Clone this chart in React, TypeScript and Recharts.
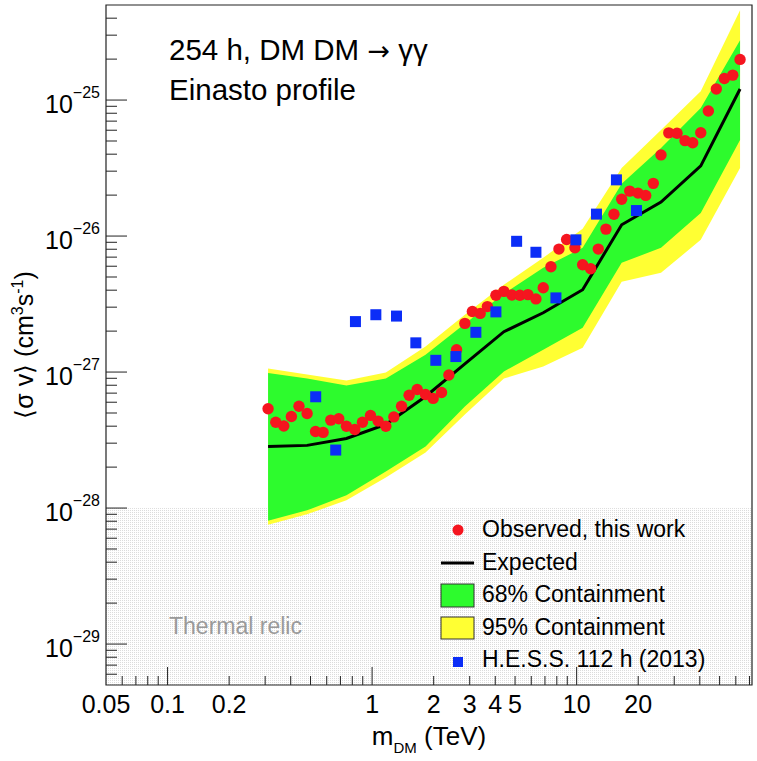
import React from "react";
import { ComposedChart, Area, Line, Scatter, XAxis, YAxis, ReferenceArea, Legend, Label } from "recharts";

const FONT = "'Liberation Sans', Arial, Helvetica, sans-serif";

// expected limit and containment bands (13 masses, TeV)
const bandMass = [0.31, 0.481, 0.749, 1.167, 1.825, 2.841, 4.409, 6.865, 10.7, 16.6, 25.85, 40.44, 62.94];
const expected = [2.84e-28, 2.89e-28, 3.25e-28, 4.12e-28, 6.61e-28, 1.15e-27, 1.98e-27, 2.73e-27, 4.03e-27, 1.21e-26, 1.78e-26, 3.28e-26, 1.205e-25];
const band68Low = [8.06e-29, 9.62e-29, 1.24e-28, 1.86e-28, 2.84e-28, 5.58e-28, 1.01e-27, 1.46e-27, 2.12e-27, 6.36e-27, 8.2e-27, 1.48e-26, 5.08e-26];
const band68High = [9.84e-28, 8.96e-28, 7.96e-28, 8.96e-28, 1.34e-27, 2.27e-27, 3.77e-27, 5.85e-27, 8.2e-27, 2.42e-26, 4.44e-26, 8.74e-26, 2.75e-25];
const band95Low = [7.53e-29, 9.0e-29, 1.14e-28, 1.68e-28, 2.56e-28, 4.88e-28, 8.96e-28, 1.1e-27, 1.51e-27, 4.62e-27, 5.37e-27, 9.38e-27, 3.17e-26];
const band95High = [1.06e-27, 9.59e-28, 8.66e-28, 9.91e-28, 1.54e-27, 2.64e-27, 4.39e-27, 6.92e-27, 1.13e-26, 3.17e-26, 6.02e-26, 1.16e-25, 4.58e-25];

// observed limit, this work
const obsMass = [
  0.31, 0.338, 0.37, 0.403, 0.439, 0.481, 0.529, 0.576, 0.628, 0.687,
  0.749, 0.823, 0.897, 0.982, 1.07, 1.167, 1.277, 1.393, 1.517, 1.661,
  1.825, 1.988, 2.185, 2.373, 2.588, 2.841, 3.092, 3.376, 3.661, 4.03,
  4.409, 4.825, 5.28, 5.776, 6.323, 6.865, 7.486, 8.192, 8.935, 9.81,
  10.7, 11.71, 12.76, 13.91, 15.22, 16.6, 18.17, 19.95, 21.76, 23.7,
  25.85, 28.22, 30.96, 33.87, 36.94, 40.44, 44.05, 48.19, 52.75, 57.98, 62.94,
];
const obsSigmaV = [
  5.37e-28, 4.28e-28, 4.01e-28, 4.71e-28, 5.61e-28, 4.96e-28, 3.66e-28, 3.6e-28, 4.43e-28, 4.54e-28,
  4.0e-28, 3.78e-28, 4.28e-28, 4.8e-28, 4.36e-28, 4.0e-28, 4.68e-28, 5.61e-28, 6.76e-28, 7.45e-28,
  6.84e-28, 6.4e-28, 7.08e-28, 9.51e-28, 1.46e-27, 2.28e-27, 2.79e-27, 2.7e-27, 3.03e-27, 3.67e-27,
  3.92e-27, 3.69e-27, 3.67e-27, 3.71e-27, 3.45e-27, 4.17e-27, 5.95e-27, 8.02e-27, 9.44e-27, 8.2e-27,
  6.15e-27, 5.75e-27, 8.02e-27, 1.125e-26, 1.445e-26, 1.866e-26, 2.14e-26, 2.07e-26, 1.99e-26, 2.44e-26,
  3.95e-26, 5.74e-26, 5.7e-26, 5.03e-26, 4.86e-26, 5.75e-26, 8.3e-26, 1.205e-25, 1.44e-25, 1.525e-25, 1.99e-25,
];

// H.E.S.S. 112 h (2013)
const hessMass = [0.53, 0.664, 0.829, 1.043, 1.316, 1.636, 2.049, 2.568, 3.216, 4.03, 5.088, 6.323, 7.92, 9.92, 12.5, 15.65, 19.61];
const hessSigmaV = [6.58e-28, 2.67e-28, 2.35e-27, 2.64e-27, 2.58e-27, 1.64e-27, 1.22e-27, 1.3e-27, 1.96e-27, 2.77e-27, 9.15e-27, 7.6e-27, 3.51e-27, 9.38e-27, 1.45e-26, 2.59e-26, 1.54e-26];

const xTicks = [0.05, 0.06, 0.07, 0.08, 0.09, 0.1, 0.2, 0.3, 0.4, 0.5, 0.6, 0.7, 0.8, 0.9, 1, 2, 3, 4, 5, 6, 7, 8, 9, 10, 20, 30, 40, 50, 60, 70];
const xTickLabels = [0.05, 0.1, 0.2, 1, 2, 3, 4, 5, 10, 20];
const xDecades = [0.1, 1, 10];
const yMajorTicks = [1e-29, 1e-28, 1e-27, 1e-26, 1e-25];
const yMinorMantissa = [2, 3, 4, 5, 6, 7, 8, 9];
const yTicks = [6e-30, 7e-30, 8e-30, 9e-30];
yMajorTicks.forEach((d) => {
  yTicks.push(d);
  yMinorMantissa.forEach((k) => {
    if (k * d < 5e-25) yTicks.push(k * d);
  });
});

const bandData = bandMass.map((m, i) => ({
  m,
  exp: expected[i],
  b68: [band68Low[i], band68High[i]],
  b95: [band95Low[i], band95High[i]],
}));
const obsData = obsMass.map((m, i) => ({ m, v: obsSigmaV[i] }));
const hessData = hessMass.map((m, i) => ({ m, v: hessSigmaV[i] }));

const RED = "#f5151f";
const GREEN = "#2dfb2d";
const YELLOW = "#ffff33";
const BLUE = "#0b2df7";

function XTick({ x, y, payload }: any) {
  const v = payload.value;
  const len = xDecades.includes(v) ? 18 : 9;
  return (
    <g>
      {v !== 0.05 && <line x1={x} x2={x} y1={y} y2={y - len} stroke="#222" />}
      {xTickLabels.includes(v) && (
        <text x={x} y={y + 28} textAnchor="middle" fontSize={25} fontFamily={FONT} fill="#000">
          {String(v)}
        </text>
      )}
    </g>
  );
}

function YTick({ x, y, payload }: any) {
  const v = payload.value;
  const major = yMajorTicks.includes(v);
  const exp = Math.round(Math.log10(v));
  return (
    <g>
      <line x1={x} x2={x + (major ? 21 : 11)} y1={y} y2={y} stroke="#222" />
      {major && (
        <text x={x - 6} y={y + 13} textAnchor="end" fontFamily={FONT} fill="#000">
          <tspan fontSize={25}>10</tspan>
          <tspan fontSize={16} dy={-15}>{"\u2212" + -exp}</tspan>
        </text>
      )}
    </g>
  );
}

function XTitle({ viewBox }: any) {
  const cx = viewBox.x + viewBox.width / 2;
  const by = viewBox.y + 60;
  return (
    <text x={cx} y={by} textAnchor="middle" fontFamily={FONT} fontSize={26} fill="#000">
      <tspan>m</tspan>
      <tspan fontSize={15} dy={8}>DM</tspan>
      <tspan dy={-8}> (TeV)</tspan>
    </text>
  );
}

function YTitle({ viewBox }: any) {
  const cy = viewBox.y + viewBox.height / 2;
  const bx = 33;
  return (
    <text x={bx} y={cy} transform={`rotate(-90, ${bx}, ${cy})`} textAnchor="middle" fontFamily={FONT} fontSize={25} fill="#000">
      <tspan>{"\u27e8\u03c3 v\u27e9 (cm"}</tspan>
      <tspan fontSize={16} dy={-10}>3</tspan>
      <tspan dy={10}>s</tspan>
      <tspan fontSize={16} dy={-10}>-1</tspan>
      <tspan dy={10}>)</tspan>
    </text>
  );
}

function ThermalShape(p: any) {
  return (
    <g>
      <defs>
        <pattern id="thermalDots" width="2" height="2" patternUnits="userSpaceOnUse">
          <rect width="2" height="2" fill="#ffffff" />
          <rect width="1" height="1" fill="#dcdcdc" />
        </pattern>
      </defs>
      <rect x={p.x} y={p.y} width={p.width} height={p.height} fill="url(#thermalDots)" />
    </g>
  );
}

function LegendBox() {
  const t = { fontFamily: FONT, fontSize: 23, fill: "#000" };
  return (
    <svg width={320} height={170}>
      <circle cx={28} cy={20} r={5.5} fill={RED} />
      <text x={52} y={27} {...t}>Observed, this work</text>
      <line x1={11} x2={44} y1={53} y2={53} stroke="#000" strokeWidth={3} />
      <text x={52} y={59.5} {...t}>Expected</text>
      <rect x={11} y={74} width={33} height={23} fill={GREEN} stroke="#333" />
      <text x={52} y={92} {...t}>68% Containment</text>
      <rect x={11} y={107} width={33} height={22} fill={YELLOW} stroke="#333" />
      <text x={52} y={125} {...t}>95% Containment</text>
      <rect x={23} y={147} width={10} height={10} fill={BLUE} />
      <text x={52} y={157} {...t}>H.E.S.S. 112 h (2013)</text>
    </svg>
  );
}

export default function App() {
  return (
    <div style={{ position: "absolute", left: 0, top: 0, width: 757, height: 761, background: "#fff" }}>
      <ComposedChart width={757} height={761} data={bandData} margin={{ top: 5, right: 5, bottom: 0, left: 0 }}>
        <XAxis
          dataKey="m"
          type="number"
          scale="log"
          domain={[0.05, 72]}
          allowDataOverflow
          ticks={xTicks}
          interval={0}
          tick={<XTick />}
          tickLine={false}
          axisLine={false}
          tickSize={0}
          tickMargin={0}
          height={76}
        >
          <Label content={<XTitle />} />
        </XAxis>
        <YAxis
          type="number"
          scale="log"
          domain={[5e-30, 5e-25]}
          allowDataOverflow
          ticks={yTicks}
          interval={0}
          tick={<YTick />}
          tickLine={false}
          axisLine={false}
          tickSize={0}
          tickMargin={0}
          width={106}
        >
          <Label content={<YTitle />} />
        </YAxis>
        <ReferenceArea y1={5e-30} y2={1e-28} x1={0.05} x2={72} shape={<ThermalShape />} zIndex={-10} />
        <Area dataKey="b95" type="linear" stroke="none" fill={YELLOW} fillOpacity={1} isAnimationActive={false} dot={false} activeDot={false} />
        <Area dataKey="b68" type="linear" stroke="none" fill={GREEN} fillOpacity={1} isAnimationActive={false} dot={false} activeDot={false} />
        <Line dataKey="exp" type="linear" stroke="#000" strokeWidth={3} dot={false} activeDot={false} isAnimationActive={false} />
        <Scatter
          data={obsData}
          dataKey="v"
          isAnimationActive={false}
          shape={(p: any) => <circle cx={p.cx} cy={p.cy} r={5.7} fill={RED} />}
        />
        <Scatter
          data={hessData}
          dataKey="v"
          isAnimationActive={false}
          shape={(p: any) => <rect x={p.cx - 5.5} y={p.cy - 5.5} width={11} height={11} fill={BLUE} />}
        />
        <ReferenceArea x1={0.05} x2={72} y1={5e-30} y2={5e-25} fill="none" stroke="#222" strokeWidth={1.2} zIndex={1000} />
        <Legend
          layout="vertical"
          align="center"
          verticalAlign="middle"
          wrapperStyle={{ left: 430, top: 510, width: 320, height: 170 }}
          content={() => <LegendBox />}
        />
      </ComposedChart>
      <svg width={757} height={761} style={{ position: "absolute", left: 0, top: 0, pointerEvents: "none" }}>
        <text x={169} y={59.5} fontFamily={FONT} fontSize={29.5} fill="#000">
          {"254 h, DM DM "}
          <tspan fontFamily="'DejaVu Sans', sans-serif" fontSize={27}>{"\u2192"}</tspan>
          {" \u03b3\u03b3"}
        </text>
        <text x={169} y={99.5} fontFamily={FONT} fontSize={29.5} fill="#000">
          Einasto profile
        </text>
        <text x={169} y={634} fontFamily={FONT} fontSize={23} fill="#9a9a9a">
          Thermal relic
        </text>
      </svg>
    </div>
  );
}
